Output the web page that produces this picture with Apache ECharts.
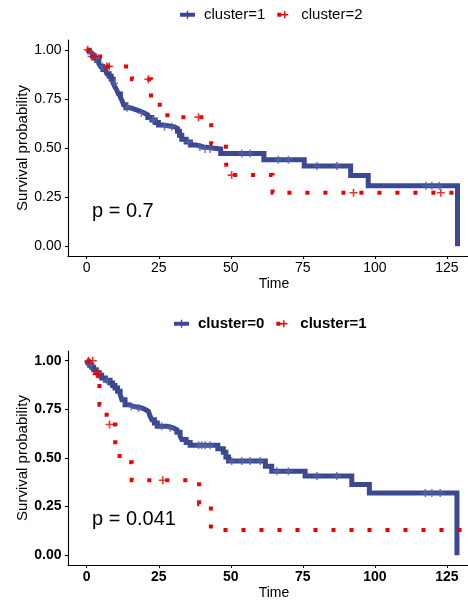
<!DOCTYPE html>
<html><head><meta charset="utf-8">
<script src="https://cdn.jsdelivr.net/npm/echarts@6/dist/echarts.min.js"></script>
<style>
html,body{margin:0;padding:0;background:#fff;width:468px;height:603px;overflow:hidden}
#c1{position:absolute;left:0;top:0;width:468px;height:300px}
#c2{position:absolute;left:0;top:300px;width:468px;height:303px}
</style>
</head><body><div id="c1"></div><div id="c2"></div>
<script>
// ---------- shared ticks ----------
const xTicks = [0, 25, 50, 75, 100, 125];
const yTicks = [0, 0.25, 0.5, 0.75, 1];

// ---------- top panel ----------
const topNames = ['cluster=1', 'cluster=2'];
const topBlue = [[0,1],[0.3,0.99],[1.3,0.98],[2,0.968],[2.8,0.957],[3.5,0.945],[4.2,0.93],[4.8,0.915],[5.6,0.9],[6.4,0.89],[7,0.878],[7.8,0.865],[8.5,0.85],[9.2,0.83],[9.8,0.81],[10.4,0.795],[11,0.775],[11.7,0.758],[12.3,0.74],[12.8,0.72],[13.6,0.705],[15,0.695],[17,0.688],[18.5,0.678],[20,0.668],[21.2,0.655],[22.6,0.643],[23.8,0.63],[24.9,0.617],[26.5,0.608],[30.5,0.6],[31.5,0.585],[32.2,0.565],[33,0.545],[34.5,0.53],[36,0.515],[38,0.505],[40.5,0.495],[46.5,0.472],[61.5,0.44],[75.5,0.408],[91.6,0.36],[97.7,0.308],[128.7,0]];
const topRed = [[0,1],[1,0.966],[6,0.915],[15.7,0.85],[22.3,0.72],[28,0.657],[43.2,0.519],[48.3,0.43],[48.9,0.362],[64.5,0.272],[129,0.272]];
const topBlueCensor = [1.5,3.2,5.5,9.5,14,19,23,27,29.5,35.3,39.3,41.1,42.8,53.8,56.7,66.5,70,79.9,86.8,117.8,119.8,122.3];
const topRedCensor = [0.3,1.7,2.9,7.0,7.8,21.4,38.8,50.3,92.6,122.9];
const topP = 'p = 0.7';

// ---------- bottom panel ----------
const botNames = ['cluster=0', 'cluster=1'];
const botBlue = [[0,1],[0.3,0.988],[1,0.977],[1.7,0.966],[2.4,0.954],[3.3,0.94],[4.3,0.925],[5.2,0.911],[6.5,0.9],[8.1,0.886],[9,0.873],[9.8,0.86],[10.7,0.843],[11.6,0.826],[12.2,0.8],[13.3,0.774],[14.8,0.765],[16.2,0.757],[19.1,0.749],[20.3,0.74],[21.4,0.732],[22,0.715],[22.6,0.697],[23.5,0.68],[24.5,0.663],[27.8,0.655],[30,0.645],[31.3,0.632],[32.4,0.612],[33,0.595],[34.5,0.58],[35.9,0.565],[45.5,0.548],[47.4,0.53],[48.3,0.505],[49.2,0.484],[62,0.458],[64.2,0.432],[75.8,0.407],[92,0.364],[98.1,0.32],[128.5,0]];
const botRed = [[0,1],[3,0.93],[4.4,0.774],[6.9,0.672],[9.9,0.56],[11.4,0.478],[15.6,0.386],[39,0.262],[43.1,0.13],[131,0.13]];
const botBlueCensor = [1.5,4,7,15.5,18,26,29,38.8,39.9,41.1,42.8,50.3,53.8,56.7,60.2,66,70,79.9,86.8,117.5,119.8,122.7];
const botRedCensor = [0.6,2.1,3.4,4.1,7.9,26.4];
const botP = 'p = 0.041';

// ---------- styling ----------
const BLUE = '#3B4992', RED = '#EE0000', TICKBLUE = '#5565a8';
const FONT = '"Liberation Sans", Arial, sans-serif';
const PLUS = 'path://M4,0 H6 V4 H10 V6 H6 V10 H4 V6 H0 V4 H4 Z';
const FRAME = ' M0,0 L0.01,0 L0,0.01 Z M19,12 L18.99,12 L19,11.99 Z';
const BLUE_ICON = 'path://M0,4 H15 V8 H0 Z M6.8,2 H8.2 V10 H6.8 Z' + FRAME;
const RED_ICON = 'path://M0,4 H4 V8 H0 Z M6.8,2.5 H8.2 V9.5 H6.8 Z M4,5.3 H11 V6.7 H4 Z' + FRAME;

function survAt(curve, t) {
  let s = curve[0][1];
  for (const p of curve) { if (p[0] <= t) s = p[1]; else break; }
  return s;
}

function makeOption(c) {
  const fw = c.bold ? 'bold' : 'normal';
  return {
    animation: false,
    backgroundColor: '#fff',
    textStyle: { fontFamily: FONT },
    legend: {
      left: c.legendLeft, top: c.legendTop, padding: 0,
      itemWidth: 19, itemHeight: 12, itemGap: 12,
      selectedMode: false,
      textStyle: { fontSize: 15, color: '#000', fontWeight: fw, fontFamily: FONT },
      data: [
        { name: c.names[0], icon: BLUE_ICON, itemStyle: { color: BLUE, borderWidth: 0 } },
        { name: c.names[1], icon: RED_ICON, itemStyle: { color: RED, borderWidth: 0 } }
      ]
    },
    grid: { left: 68, top: c.gridTop, width: 412, height: c.gridH, containLabel: false, outerBoundsMode: 'none' },
    xAxis: {
      type: 'value', min: -6.5, max: 136.5,
      axisLine: { show: true, onZero: false, lineStyle: { color: '#000', width: 1.1 } },
      axisTick: { show: true, length: 3, customValues: xTicks, lineStyle: { color: '#000', width: 1.1 } },
      axisLabel: { customValues: xTicks, margin: 5, fontSize: 14, color: '#000', fontWeight: fw, fontFamily: FONT, formatter: v => String(v) },
      splitLine: { show: false },
      name: 'Time', nameLocation: 'middle', nameGap: 21, nameMoveOverlap: false,
      nameTextStyle: { fontSize: 14, color: '#000', fontFamily: FONT }
    },
    yAxis: {
      type: 'value', min: -0.05, max: 1.05,
      axisLine: { show: true, onZero: false, lineStyle: { color: '#000', width: 1.1 } },
      axisTick: { show: true, length: 3, customValues: yTicks, lineStyle: { color: '#000', width: 1.1 } },
      axisLabel: { customValues: yTicks, margin: 6.5, fontSize: 14, color: '#000', fontWeight: fw, fontFamily: FONT, formatter: v => v.toFixed(2) },
      splitLine: { show: false },
      name: 'Survival probability', nameLocation: 'middle', nameGap: 38, nameRotate: 90, nameMoveOverlap: false,
      nameTextStyle: { fontSize: 15, color: '#000', fontFamily: FONT }
    },
    series: [
      { type: 'line', name: c.names[0], data: c.blue, step: 'end', symbol: 'none', showSymbol: false,
        lineStyle: { color: BLUE, width: 5, cap: 'butt', join: 'miter' }, itemStyle: { color: BLUE }, z: 2 },
      { type: 'line', name: c.names[1], data: c.red, step: 'end', symbol: 'none', showSymbol: false,
        lineStyle: { color: RED, width: 4, type: [4, 14], cap: 'butt', join: 'miter' }, itemStyle: { color: RED }, z: 3 },
      { type: 'scatter', data: c.blueC.map(t => [t, survAt(c.blue, t)]), symbol: PLUS, symbolSize: 8,
        itemStyle: { color: TICKBLUE }, silent: true, z: 4 },
      { type: 'scatter', data: c.redC.map(t => [t, survAt(c.red, t)]), symbol: PLUS, symbolSize: 8,
        itemStyle: { color: RED }, silent: true, z: 5 }
    ],
    graphic: [{
      type: 'text', x: 92, y: c.pY,
      style: { text: c.p, fontSize: 20, fill: '#000', fontFamily: FONT, verticalAlign: 'middle', align: 'left' }
    }]
  };
}

const ch1 = echarts.init(document.getElementById('c1'), null, { renderer: 'canvas' });
ch1.setOption(makeOption({
  names: topNames, blue: topBlue, red: topRed, blueC: topBlueCensor, redC: topRedCensor,
  p: topP, pY: 211, bold: false, legendLeft: 180, legendTop: 7.3, gridTop: 40, gridH: 216
}));
const ch2 = echarts.init(document.getElementById('c2'), null, { renderer: 'canvas' });
ch2.setOption(makeOption({
  names: botNames, blue: botBlue, red: botRed, blueC: botBlueCensor, redC: botRedCensor,
  p: botP, pY: 219, bold: true, legendLeft: 174, legendTop: 16.3, gridTop: 51, gridH: 214
}));
</script>
</body></html>
